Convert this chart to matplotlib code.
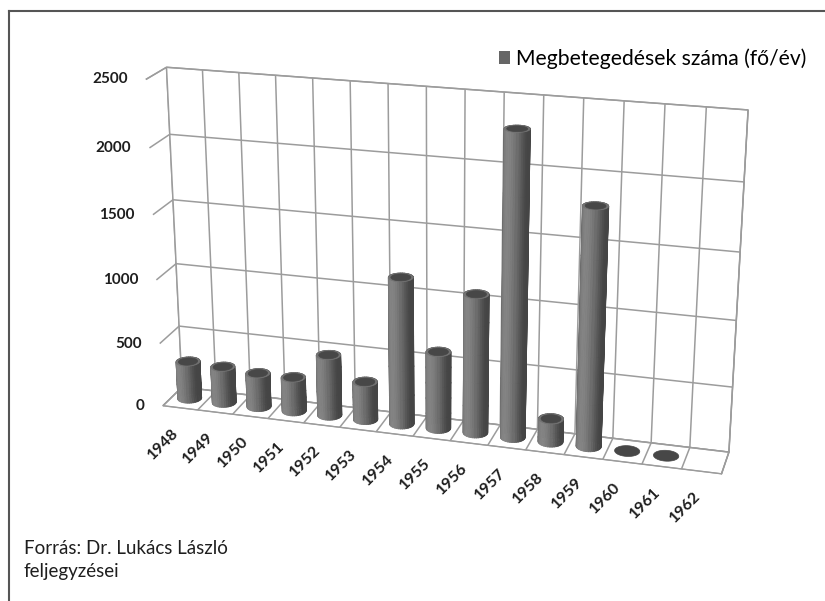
import numpy as np
import matplotlib.pyplot as plt
from matplotlib.patches import Patch
from matplotlib.lines import Line2D
from mpl_toolkits.mplot3d import proj3d
from mpl_toolkits.mplot3d.art3d import Poly3DCollection

years = [1948, 1949, 1950, 1951, 1952, 1953, 1954, 1955,
         1956, 1957, 1958, 1959, 1960, 1961, 1962]
cases = [300, 290, 270, 270, 480, 300, 1140, 600,
         1070, 2300, 180, 1800, 0, 0, 0]
z_ticks = [0, 500, 1000, 1500, 2000, 2500]

series_name = "Megbetegedések száma (fő/év)"
source_text = "Forrás: Dr. Lukács László\nfeljegyzései"

bar_color = "#666666"
grid_color = "#9c9c9c"
text_color = "#1e1e1e"

plt.rcParams['font.family'] = ['Lato', 'DejaVu Sans']
plt.rcParams['grid.color'] = grid_color
plt.rcParams['grid.linewidth'] = 1.1

fig = plt.figure(figsize=(8.25, 6.01), dpi=100)
ax = fig.add_axes([0.058, 0.115, 0.93, 0.86], projection='3d', computed_zorder=False)

n = len(years)
depth = 1.3
radius = 0.32
depth_pos = depth / 2

# shading of the cylinder sides, light from the front left
theta = np.linspace(0, 2 * np.pi, 37)
light = np.array([-0.55, -0.85])
light = light / np.linalg.norm(light)
lum = 0.27 + 0.25 * np.clip(np.cos(theta) * light[0] + np.sin(theta) * light[1], 0, 1) ** 1.5

for i, v in enumerate(cases):
    if v > 0:
        th, zz = np.meshgrid(theta, np.linspace(0, v, 6))
        xs = i + radius * np.cos(th)
        ys = depth_pos + radius * np.sin(th)
        fc = np.ones(zz.shape + (4,))
        fc[..., :3] = lum[None, :, None]
        surf = ax.plot_surface(xs, ys, zz, facecolors=fc, shade=False,
                               linewidth=0.6, antialiased=True, zorder=5)
        surf.set_edgecolor(surf._facecolor3d)


def disc(i, v, r):
    return list(zip(i + r * np.cos(theta[:-1]), depth_pos + r * np.sin(theta[:-1]),
                    np.full(len(theta) - 1, float(v))))


# top caps: light rim with a darker disc inside (zero years show only a dark disc)
rims = [disc(i, v, radius) for i, v in enumerate(cases)]
rim_colors = [(0.45,) * 3 if v > 0 else (0.28,) * 3 for v in cases]
ax.add_collection3d(Poly3DCollection(rims, facecolors=rim_colors, edgecolors=rim_colors,
                                     linewidths=0.5, zorder=6), autolim=False)
inner = [disc(i, v, radius * 0.8) for i, v in enumerate(cases)]
ax.add_collection3d(Poly3DCollection(inner, facecolors=(0.28,) * 3, edgecolors=(0.28,) * 3,
                                     linewidths=0.5, zorder=7), autolim=False)

ax.set_xlim(-0.5, n - 0.5)
ax.set_ylim(0, depth)
ax.set_zlim(0, 2500)
ax.set_box_aspect((n, depth, 9.0), zoom=1.3)
ax.view_init(elev=20, azim=-74)
ax.set_proj_type('persp', focal_length=0.7)

ax.set_xticks(np.arange(-0.5, n, 1))
ax.set_xticklabels([])
ax.set_yticks([])
ax.set_zticks(z_ticks)
ax.set_zticklabels([])
for axis in (ax.xaxis, ax.yaxis, ax.zaxis):
    axis.set_pane_color((1, 1, 1, 1))
    axis.pane.set_edgecolor(grid_color)
    axis.line.set_color(grid_color)
    axis._axinfo['tick']['inward_factor'] = 0
    axis._axinfo['tick']['outward_factor'] = 0

fig.canvas.draw()
M = ax.get_proj()


def to2d(x, y, z):
    px, py, _ = proj3d.proj_transform(x, y, z, M)
    return px, py


# category labels
for i, y in enumerate(years):
    ax.annotate(str(y), xy=to2d(i, 0, 0), xycoords='data',
                xytext=(1, -13), textcoords='offset points',
                rotation=45, ha='right', va='top', annotation_clip=False,
                fontsize=11.5, fontweight='bold', color=text_color)

# value labels
for t in z_ticks:
    ax.annotate(str(t), xy=to2d(-0.5, 0, t), xycoords='data',
                xytext=(-13, 0), textcoords='offset points',
                ha='right', va='center', annotation_clip=False,
                fontsize=11, fontweight='bold', color=text_color)

fig.legend(handles=[Patch(facecolor=bar_color)], labels=[series_name],
           loc='center right', bbox_to_anchor=(1.0, 0.902), frameon=False,
           fontsize=15.2, handlelength=0.55, handleheight=0.55, handletextpad=0.25)

fig.text(24 / 825, 0.068, source_text, fontsize=13.5, color=text_color,
         va='center', ha='left', linespacing=1.4)

fig.add_artist(Line2D([9 / 825, 9 / 825], [0, 1 - 11 / 601], transform=fig.transFigure,
                      color='#555555', lw=1.5))
fig.add_artist(Line2D([9 / 825, 1], [1 - 11 / 601, 1 - 11 / 601], transform=fig.transFigure,
                      color='#555555', lw=1.5))

fig.savefig("out.png", dpi=100)
